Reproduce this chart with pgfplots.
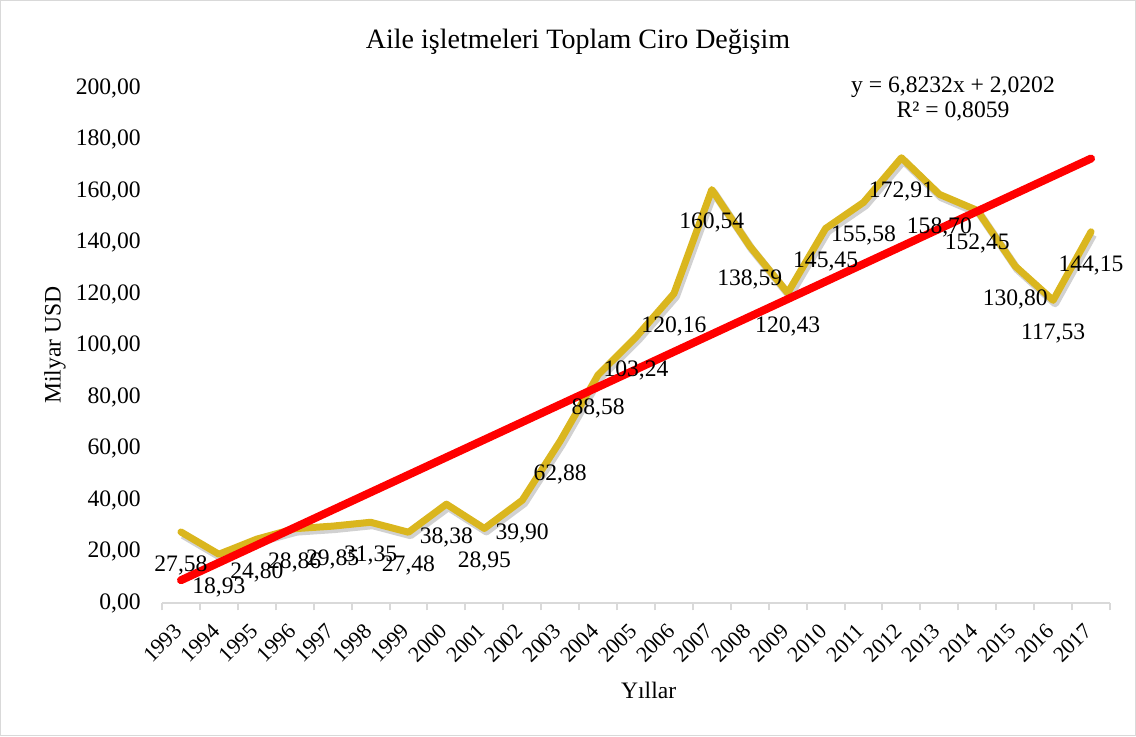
\documentclass[border=0pt]{standalone}
\usepackage{fontspec}
\setmainfont{Liberation Serif}
\usepackage{pgfplots}
\pgfplotsset{compat=1.18}
\usepackage{pgfplotstable}
\definecolor{gold}{RGB}{218,182,30}
\definecolor{axgray}{RGB}{217,217,217}
\pgfplotstableread{
x y
1 27.58
2 18.93
3 24.80
4 28.86
5 29.85
6 31.35
7 27.48
8 38.38
9 28.95
10 39.90
11 62.88
12 88.58
13 103.24
14 120.16
15 160.54
16 138.59
17 120.43
18 145.45
19 155.58
20 172.91
21 158.70
22 152.45
23 130.80
24 117.53
25 144.15
}\datatable
\pgfplotstableread{
x y
1 8.8434
25 172.6002
}\trendtable
\newcommand{\lbl}{\fontsize{17.7}{20}\selectfont}
\begin{document}
\begin{tikzpicture}
\path[use as bounding box] (0,0) rectangle (852pt,552pt);
\draw[axgray, line width=0.75pt] (0.4pt,0.4pt) rectangle (851.6pt,551.6pt);
\begin{axis}[
  at={(121.5pt,99.75pt)}, anchor=south west,
  scale only axis, width=711pt, height=386.25pt,
  xmin=0.5, xmax=25.5, ymin=0, ymax=200,
  clip=false,
  axis x line*=bottom, axis y line*=left,
  y axis line style={draw=none},
  x axis line style={axgray, line width=1.5pt},
  ytick={0,20,...,200},
  ytick style={draw=none},
  xtick={1,...,25},
  xticklabels={1993,1994,1995,1996,1997,1998,1999,2000,2001,2002,2003,2004,2005,2006,2007,2008,2009,2010,2011,2012,2013,2014,2015,2016,2017},
  major x tick style={draw=none},
  minor xtick={0.5,1.5,...,25.5},
  minor x tick style={axgray, line width=1.5pt},
  minor tick length=5.5pt,
  tick align=outside,
  /pgf/number format/assume math mode=true,
  tick label style={font=\lbl, text=black},
  yticklabel style={/pgf/number format/.cd, fixed, fixed zerofill, precision=2, use comma, /tikz/.cd, anchor=east, inner sep=0pt, xshift=-11.5pt},
  xticklabel style={font=\fontsize{16.5}{18}\selectfont, anchor=east, inner sep=0pt, xshift=-2pt, yshift=-14pt, rotate=45},
]
\addplot[black, opacity=0.18, line width=6pt, line join=round, mark=none, xshift=1.5pt, yshift=-2.2pt] table[x=x,y=y]{\datatable};
\addplot[gold, line width=5.25pt, line join=round, line cap=round, mark=none] table[x=x,y=y]{\datatable};
\addplot[draw=none, mark=none, point meta=y,
  nodes near coords={\pgfmathprintnumber[fixed,fixed zerofill,precision=2,use comma,assume math mode=true]{\pgfplotspointmeta}},
  every node near coord/.style={anchor=center, yshift=-25pt, font=\lbl, text=black, inner sep=0pt}] table[x=x,y=y]{\datatable};
\addplot[red, line width=6pt, line cap=round, mark=none] table[x=x,y=y]{\trendtable};
\end{axis}
\node at (433.5pt,521pt) {\fontsize{21}{25}\selectfont Aile işletmeleri Toplam Ciro Değişim};
\node[align=center, font=\fontsize{17.7}{18.75}\selectfont] at (714.75pt,477.4pt) {y = 6,8232x + 2,0202\\ R² = 0,8059};
\node[rotate=90] at (41.25pt,293.25pt) {\lbl Milyar USD};
\node at (486.5pt,34.5pt) {\lbl Yıllar};
\end{tikzpicture}
\end{document}
